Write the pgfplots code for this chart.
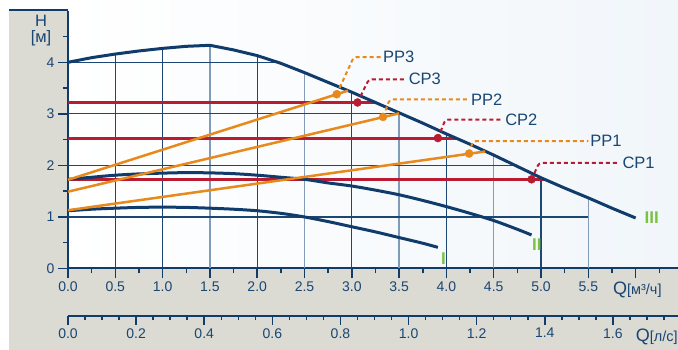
\documentclass[border=0pt]{standalone}
\usepackage{fontspec}
\setmainfont{Liberation Sans}
\usepackage{pgfplots}
\pgfplotsset{compat=1.18}
\definecolor{navy}{RGB}{16,60,107}
\definecolor{gridd}{RGB}{28,70,116}
\definecolor{gridl}{RGB}{128,156,184}
\definecolor{cpred}{RGB}{185,28,50}
\definecolor{pporange}{RGB}{232,137,28}
\definecolor{lgreen}{RGB}{124,194,66}
\definecolor{panel}{RGB}{219,218,211}
\definecolor{txt}{RGB}{25,70,115}
\begin{document}
\begin{tikzpicture}[x=1pt,y=1pt]
\path[use as bounding box] (-68pt,-81.5pt) rectangle (610pt,268.5pt);
\fill[panel] (-59pt,-81.5pt) rectangle (610pt,0pt);
\fill[panel] (-59pt,0pt) rectangle (0pt,258.5pt);
\shade[left color=white, right color={rgb,255:red,241;green,246;blue,250}] (0pt,0pt) rectangle (610pt,268.5pt);
\draw[navy, line width=2pt] (-59pt,258.5pt) -- (0pt,258.5pt);
\begin{axis}[
  at={(0pt,0pt)}, anchor=south west, scale only axis,
  width=610pt, height=257.75pt,
  xmin=0, xmax=6.448, ymin=0, ymax=5,
  axis lines=left, axis line style={navy, line width=2pt, -},
  xtick={0,0.5,1,1.5,2,2.5,3,3.5,4,4.5,5,5.5,6},
  xticklabels={0.0,0.5,1.0,1.5,2.0,2.5,3.0,3.5,4.0,4.5,5.0,5.5,{}},
  minor xtick={0.25,0.75,1.25,1.75,2.25,2.75,3.25,3.75,4.25,4.75,5.25,5.75,6.25},
  ytick={0,1,2,3,4}, yticklabels={0,1,2,3,4},
  minor ytick={0.5,1.5,2.5,3.5,4.5},
  tick align=outside, major tick length=10pt, minor tick length=5pt,
  tick style={navy, line width=1.5pt},
  ticklabel style={font=\fontsize{14}{14}\selectfont, text=txt},
  /pgf/number format/assume math mode=true,
  clip=false,
]
% grid
\addplot[gridd, line width=1.2pt] coordinates {(0.5,0)(0.5,4.16)};
\addplot[gridd, line width=1.2pt] coordinates {(1,0)(1,4.27)};
\addplot[gridl, line width=1.4pt] coordinates {(1.5,0)(1.5,4.33)};
\addplot[gridd, line width=1.2pt] coordinates {(2,0)(2,4.13)};
\addplot[gridl, line width=1.4pt] coordinates {(2.5,0)(2.5,3.80)};
\addplot[gridd, line width=1.2pt] coordinates {(3,0)(3,3.42)};
\addplot[gridl, line width=1.4pt] coordinates {(3.5,0)(3.5,3.02)};
\addplot[gridd, line width=1.2pt] coordinates {(4,0)(4,2.61)};
\addplot[gridl, line width=1.4pt] coordinates {(4.5,0)(4.5,2.20)};
\addplot[gridd, line width=1.2pt] coordinates {(5,0)(5,1.76)};
\addplot[gridl, line width=1.4pt] coordinates {(5.5,0)(5.5,1.37)};
\addplot[gridd, line width=1.2pt] coordinates {(0,1)(5.5,1)};
\addplot[gridd, line width=1.2pt] coordinates {(0,2)(4.73,2)};
\addplot[gridd, line width=1.2pt] coordinates {(0,3)(3.52,3)};
\addplot[gridd, line width=1.2pt] coordinates {(0,4)(2.22,4)};
% CP lines
\addplot[cpred, line width=3pt] coordinates {(0,3.22)(3.25,3.22)};
\addplot[cpred, line width=3pt] coordinates {(0,2.52)(4.11,2.52)};
\addplot[cpred, line width=3pt] coordinates {(0,1.73)(5.04,1.73)};
% pump curves
\addplot[navy, line width=3pt] coordinates {(0,4.00)(0.25,4.09)(0.5,4.16)(0.75,4.22)(1.0,4.27)(1.25,4.31)(1.5,4.33)(1.75,4.24)(2.0,4.13)(2.25,3.98)(2.5,3.80)(2.75,3.61)(3.0,3.42)(3.25,3.22)(3.5,3.02)(3.75,2.82)(4.0,2.61)(4.25,2.41)(4.5,2.20)(4.75,1.98)(5.0,1.76)(5.25,1.56)(5.5,1.37)(5.75,1.17)(6.0,0.98)};
\addplot[navy, line width=3pt, smooth] coordinates {(0,1.73)(0.25,1.77)(0.5,1.81)(0.75,1.835)(1.0,1.85)(1.25,1.86)(1.5,1.855)(1.75,1.84)(2.0,1.81)(2.25,1.77)(2.5,1.73)(2.75,1.66)(3.0,1.60)(3.25,1.52)(3.5,1.43)(3.75,1.32)(4.0,1.20)(4.25,1.07)(4.5,0.93)(4.75,0.76)(4.9,0.65)};
\addplot[navy, line width=3pt, smooth] coordinates {(0,1.12)(0.25,1.15)(0.5,1.17)(0.75,1.185)(1.0,1.19)(1.25,1.185)(1.5,1.17)(1.75,1.15)(2.0,1.12)(2.25,1.07)(2.5,1.00)(2.75,0.91)(3.0,0.81)(3.25,0.71)(3.5,0.60)(3.75,0.49)(3.91,0.41)};
% PP lines
\addplot[pporange, line width=2.5pt] coordinates {(0,1.72)(2.96,3.45)};
\addplot[pporange, line width=2.5pt] coordinates {(0,1.49)(3.50,3.01)};
\addplot[pporange, line width=2.5pt] coordinates {(0,1.13)(4.41,2.27)};
% leaders
\addplot[pporange, line width=2pt, dash pattern=on 4pt off 3pt, rounded corners=3pt] coordinates {(2.84,3.38)(3.02,4.10)(3.32,4.10)};
\addplot[cpred, line width=2pt, dash pattern=on 4pt off 3pt, rounded corners=3pt] coordinates {(3.06,3.22)(3.18,3.67)(3.57,3.67)};
\addplot[pporange, line width=2pt, dash pattern=on 4pt off 3pt, rounded corners=3pt] coordinates {(3.33,2.94)(3.40,3.28)(4.23,3.28)};
\addplot[cpred, line width=2pt, dash pattern=on 4pt off 3pt, rounded corners=3pt] coordinates {(3.91,2.53)(3.99,2.89)(4.60,2.89)};
\addplot[pporange, line width=2pt, dash pattern=on 4pt off 3pt, rounded corners=3pt] coordinates {(4.24,2.23)(4.28,2.47)(5.50,2.47)};
\addplot[cpred, line width=2pt, dash pattern=on 4pt off 3pt, rounded corners=3pt] coordinates {(4.90,1.73)(4.98,2.05)(5.83,2.05)};
% dots
\addplot[only marks, mark=*, mark size=4pt, pporange] coordinates {(2.84,3.38)(3.33,2.94)(4.24,2.23)};
\addplot[only marks, mark=*, mark size=4pt, cpred] coordinates {(3.06,3.22)(3.91,2.53)(4.90,1.73)};
% labels
\begin{scope}[every node/.style={text=txt, font=\fontsize{16.5}{16.5}\selectfont, inner sep=0pt}]
\node[anchor=west] at (axis cs:3.33,4.10) {PP3};
\node[anchor=west] at (axis cs:3.60,3.67) {CP3};
\node[anchor=west] at (axis cs:4.26,3.28) {PP2};
\node[anchor=west] at (axis cs:4.62,2.89) {CP2};
\node[anchor=west] at (axis cs:5.52,2.47) {PP1};
\node[anchor=west] at (axis cs:5.86,2.05) {CP1};
\node at (axis cs:-0.285,4.80) {H};
\node at (axis cs:-0.285,4.46) {[м]};
\node[anchor=base west] at (axis cs:5.76,-0.50) {\fontsize{18}{18}\selectfont Q\fontsize{14.5}{14.5}\selectfont[м³/ч]};
\node[anchor=base west] at (axis cs:6.00,-1.42) {\fontsize{18}{18}\selectfont Q\fontsize{14.5}{14.5}\selectfont[л/с]};
\end{scope}
\begin{scope}[every node/.style={text=lgreen, font=\fontsize{17}{17}\selectfont\bfseries, inner sep=0pt}]
\node at (axis cs:3.97,0.20) {I};
\node at (axis cs:4.955,0.46) {II};
\node at (axis cs:6.17,0.99) {III};
\end{scope}
\end{axis}
\begin{axis}[
  at={(0pt,-47.2pt)}, anchor=south west, scale only axis,
  width=610pt, height=20pt,
  xmin=0, xmax=1.79111, ymin=0, ymax=1,
  axis x line=bottom, axis y line=none,
  axis line style={navy, line width=2pt, -},
  xtick={0,0.2,0.4,0.6,0.8,1.0,1.2,1.4,1.6},
  xticklabels={0.0,0.2,0.4,0.6,0.8,1.0,1.2,1.4,1.6},
  minor xtick={0.05,0.1,0.15,0.25,0.3,0.35,0.45,0.5,0.55,0.65,0.7,0.75,0.85,0.9,0.95,1.05,1.1,1.15,1.25,1.3,1.35,1.45,1.5,1.55,1.65,1.7,1.75},
  tick align=outside, major tick length=9pt, minor tick length=4pt,
  tick style={navy, line width=1.5pt},
  ticklabel style={font=\fontsize{14}{14}\selectfont, text=txt},
  clip=false,
]
\addplot[draw=none] coordinates {(0,0)(1,1)};
\end{axis}
\end{tikzpicture}
\end{document}
